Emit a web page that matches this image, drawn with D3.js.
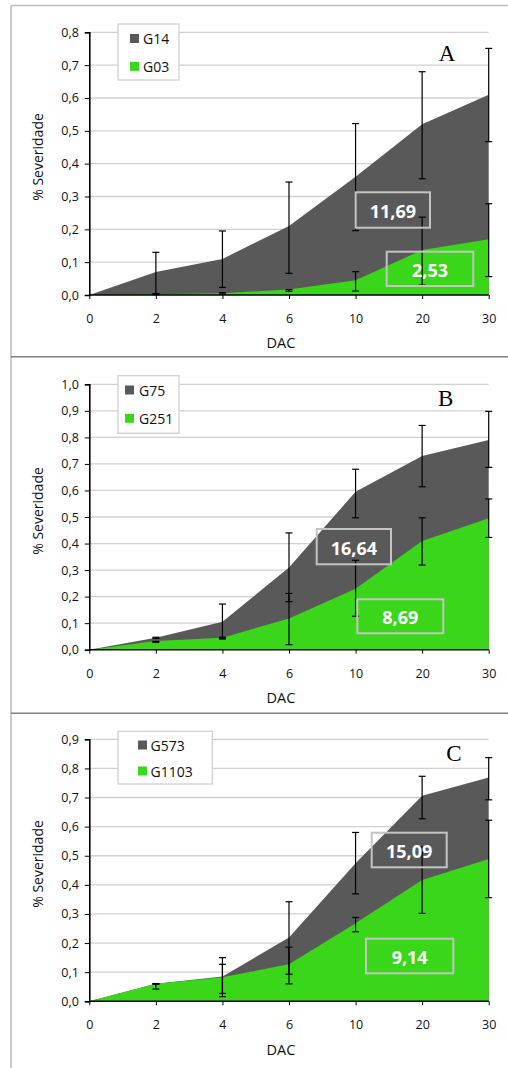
<!DOCTYPE html>
<html>
<head>
<meta charset="utf-8">
<script src="https://cdn.jsdelivr.net/npm/d3@7"></script>
<style>
  html, body { margin: 0; padding: 0; background: #fff; }
  svg { display: block; }
</style>
</head>
<body>
<svg id="chart" width="508" height="1068"></svg>
<script>
// ---------- DATA ----------
const categories = ["0", "2", "4", "6", "10", "20", "30"];

// Panel A
const aTicks = [0, 0.1, 0.2, 0.3, 0.4, 0.5, 0.6, 0.7, 0.8];
const g14   = [0, 0.07, 0.11, 0.21, 0.36, 0.52, 0.61];
const g14Hi = [null, 0.13, 0.195, 0.344, 0.522, 0.68, 0.751];
const g14Lo = [null, 0.004, 0.023, 0.066, 0.196, 0.354, 0.467];
const g03   = [0, 0.002, 0.005, 0.017, 0.045, 0.137, 0.17];
const g03Hi = [null, 0.003, 0.007, 0.016, 0.071, 0.237, 0.278];
const g03Lo = [null, 0.001, 0.003, 0.011, 0.012, 0.03, 0.056];

// Panel B
const bTicks = [0, 0.1, 0.2, 0.3, 0.4, 0.5, 0.6, 0.7, 0.8, 0.9, 1.0];
const g75    = [0, 0.045, 0.105, 0.31, 0.595, 0.73, 0.79];
const g75Hi  = [null, 0.047, 0.172, 0.44, 0.68, 0.845, 0.898];
const g75Lo  = [null, 0.043, 0.04, 0.181, 0.497, 0.614, 0.687];
const g251   = [0, 0.033, 0.045, 0.118, 0.23, 0.41, 0.495];
const g251Hi = [null, 0.031, 0.047, 0.212, 0.337, 0.497, 0.568];
const g251Lo = [null, 0.028, 0.043, 0.019, 0.126, 0.319, 0.423];

// Panel C
const cTicks = [0, 0.1, 0.2, 0.3, 0.4, 0.5, 0.6, 0.7, 0.8, 0.9];
const g573    = [0, 0.06, 0.085, 0.219, 0.474, 0.706, 0.769];
const g573Hi  = [null, 0.061, 0.15, 0.342, 0.58, 0.773, 0.837];
const g573Lo  = [null, 0.059, 0.016, 0.093, 0.369, 0.627, 0.692];
const g1103   = [0, 0.06, 0.083, 0.127, 0.268, 0.417, 0.489];
const g1103Hi = [null, 0.06, 0.127, 0.186, 0.288, 0.53, 0.622];
const g1103Lo = [null, 0.042, 0.027, 0.06, 0.239, 0.302, 0.356];

// Annotations (AUDPC values)
const aNotes = ["11,69", "2,53"];
const bNotes = ["16,64", "8,69"];
const cNotes = ["15,09", "9,14"];

// ---------- STYLE ----------
const GREY = "#595959";
const GREEN = "#3ad619";
const FONT = "'Open Sans', 'DejaVu Sans', sans-serif";

const svg = d3.select("#chart");
const fmt = v => d3.format(".1f")(v).replace(".", ",");

// frame lines
svg.append("line").attr("x1", 11).attr("x2", 11).attr("y1", 5.5).attr("y2", 1068)
  .attr("stroke", "#bdbdbd").attr("stroke-width", 1.6);
svg.append("line").attr("x1", 11).attr("x2", 508).attr("y1", 5.5).attr("y2", 5.5)
  .attr("stroke", "#bdbdbd").attr("stroke-width", 1.6);
[356.8, 713.3].forEach(y => {
  svg.append("line").attr("x1", 11).attr("x2", 508).attr("y1", y).attr("y2", y)
    .attr("stroke", "#7f7f7f").attr("stroke-width", 1.4);
});

const panels = [
  { top: 32.3, bottom: 295, ticks: aTicks, back: g14, backHi: g14Hi, backLo: g14Lo, front: g03, frontHi: g03Hi, frontLo: g03Lo,
    names: ["G14", "G03"], notes: aNotes, letter: "A", letterPos: [447, 53],
    legend: { x: 118, y: 24, w: 61, h: 56, sx: 130, tx: 143, rows: [38.5, 66.3] },
    boxes: [[355.7, 192.3, 74.3, 35.4], [386.7, 251.7, 86.6, 34.3]],
    xLabY: 318, dacY: 342, ylabY: 157 },
  { top: 384.3, bottom: 649.7, ticks: bTicks, back: g75, backHi: g75Hi, backLo: g75Lo, front: g251, frontHi: g251Hi, frontLo: g251Lo,
    names: ["G75", "G251"], notes: bNotes, letter: "B", letterPos: [445.7, 398.3],
    legend: { x: 118, y: 375.7, w: 61, h: 57.6, sx: 125, tx: 139, rows: [390, 418.3] },
    boxes: [[316.7, 529, 74.3, 35.3], [357.3, 599.3, 86, 34]],
    xLabY: 673.3, dacY: 697.3, ylabY: 511 },
  { top: 739.3, bottom: 1001.3, ticks: cTicks, back: g573, backHi: g573Hi, backLo: g573Lo, front: g1103, frontHi: g1103Hi, frontLo: g1103Lo,
    names: ["G573", "G1103"], notes: cNotes, letter: "C", letterPos: [454, 753.3],
    legend: { x: 118, y: 731.3, w: 94.3, h: 52.7, sx: 138, tx: 150.5, rows: [745, 771] },
    boxes: [[371.7, 832.7, 75, 34.6], [366, 938.7, 87.3, 34.6]],
    xLabY: 1024.3, dacY: 1049, ylabY: 864 }
];

panels.forEach(p => {
  const g = svg.append("g");
  const x = d3.scalePoint().domain(categories).range([89.3, 488.7]);
  const yMax = p.ticks[p.ticks.length - 1];
  const y = d3.scaleLinear().domain([0, yMax]).range([p.bottom, p.top]);

  // gridlines
  g.selectAll(".grid").data(p.ticks.filter(t => t > 0)).enter().append("line")
    .attr("x1", 89.3).attr("x2", 488.7)
    .attr("y1", d => y(d)).attr("y2", d => y(d))
    .attr("stroke", "#d0d0d0").attr("stroke-width", 1.3);

  // areas
  const area = vals => d3.area()
    .x((d, i) => x(categories[i]))
    .y0(y(0)).y1(d => y(d))(vals);
  g.append("path").attr("d", area(p.back)).attr("fill", GREY);
  g.append("path").attr("d", area(p.front)).attr("fill", GREEN);

  // error bars
  const bars = (hi, lo) => {
    const data = categories.map((c, i) => ({ c, hi: hi[i], lo: lo[i] })).filter(d => d.hi != null);
    const eg = g.append("g").attr("stroke", "#000").attr("stroke-width", 1.2);
    data.forEach(d => {
      const cx = x(d.c);
      eg.append("line").attr("x1", cx).attr("x2", cx).attr("y1", y(d.hi)).attr("y2", y(d.lo));
      eg.append("line").attr("x1", cx - 3.5).attr("x2", cx + 3.5).attr("y1", y(d.hi)).attr("y2", y(d.hi));
      eg.append("line").attr("x1", cx - 3.5).attr("x2", cx + 3.5).attr("y1", y(d.lo)).attr("y2", y(d.lo));
    });
  };
  bars(p.backHi, p.backLo);
  bars(p.frontHi, p.frontLo);

  // axes
  const yAxis = d3.axisLeft(y).tickValues(p.ticks).tickFormat(fmt).tickSize(4.5).tickPadding(6);
  const ya = g.append("g").attr("transform", "translate(89.3,0)").call(yAxis);
  ya.select(".domain").attr("stroke", "#000").attr("stroke-width", 1.6);
  ya.selectAll(".tick line").attr("stroke", "#000").attr("stroke-width", 1);
  ya.selectAll("text").attr("font-family", FONT).attr("font-size", 12.5).attr("fill", "#111");

  const xAxis = d3.axisBottom(x).tickSize(4).tickPadding(10);
  const xa = g.append("g").attr("transform", `translate(0,${p.bottom})`).call(xAxis);
  xa.select(".domain").attr("stroke", "#000").attr("stroke-width", 1.6).attr("d", `M89.3,0H488.7`);
  xa.selectAll(".tick line").attr("stroke", "#000").attr("stroke-width", 1);
  xa.selectAll("text").attr("font-family", FONT).attr("font-size", 12.5).attr("fill", "#111")
    .attr("y", null).attr("dy", null)
    .attr("transform", `translate(0,${p.xLabY - p.bottom})`).attr("dominant-baseline", "central");

  // axis titles
  g.append("text").attr("x", 281).attr("y", p.dacY).attr("text-anchor", "middle")
    .attr("dominant-baseline", "central").attr("font-family", FONT).attr("font-size", 14.5)
    .attr("fill", "#111").text("DAC");
  g.append("text").attr("transform", `translate(37,${p.ylabY}) rotate(-90)`)
    .attr("text-anchor", "middle").attr("dominant-baseline", "central")
    .attr("font-family", FONT).attr("font-size", 14).attr("fill", "#111").text("% Severidade");

  // legend
  const L = p.legend;
  g.append("rect").attr("x", L.x).attr("y", L.y).attr("width", L.w).attr("height", L.h)
    .attr("fill", "#fff").attr("stroke", "#d0d0d0").attr("stroke-width", 1.3);
  [GREY, GREEN].forEach((col, i) => {
    g.append("rect").attr("x", L.sx).attr("y", L.rows[i] - 4.5).attr("width", 9).attr("height", 9).attr("fill", col);
    g.append("text").attr("x", L.tx).attr("y", L.rows[i]).attr("dominant-baseline", "central")
      .attr("font-family", FONT).attr("font-size", 14).attr("fill", "#111").text(p.names[i]);
  });

  // panel letter
  g.append("text").attr("x", p.letterPos[0]).attr("y", p.letterPos[1])
    .attr("text-anchor", "middle").attr("dominant-baseline", "central")
    .attr("font-family", "'Liberation Serif', 'Times New Roman', serif").attr("font-size", 23)
    .attr("fill", "#000").text(p.letter);

  // annotation boxes
  p.boxes.forEach((b, i) => {
    g.append("rect").attr("x", b[0]).attr("y", b[1]).attr("width", b[2]).attr("height", b[3])
      .attr("fill", "none").attr("stroke", "#c4c4c4").attr("stroke-width", 2);
    g.append("text").attr("x", b[0] + b[2] / 2).attr("y", b[1] + b[3] / 2 + 1)
      .attr("text-anchor", "middle").attr("dominant-baseline", "central")
      .attr("font-family", FONT).attr("font-weight", "bold").attr("font-size", 18)
      .attr("fill", "#fff").text(p.notes[i]);
  });
});
</script>
</body>
</html>
